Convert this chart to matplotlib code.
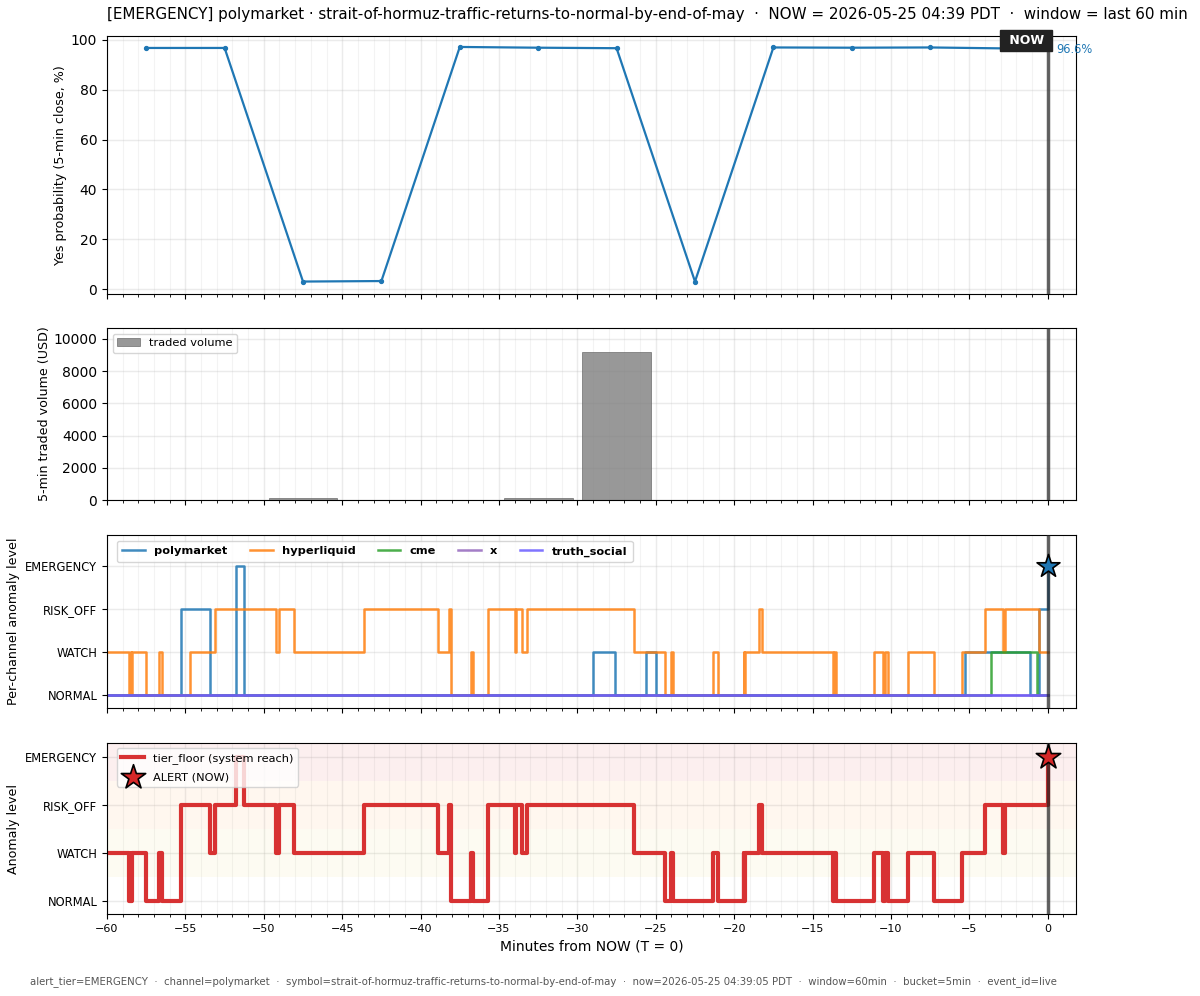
import matplotlib
matplotlib.use("Agg")
import matplotlib.pyplot as plt
from matplotlib.ticker import MultipleLocator

levels = ["NORMAL", "WATCH", "RISK_OFF", "EMERGENCY"]

# 5-min close
prob_t = [-57.5, -52.5, -47.5, -42.5, -37.5, -32.5, -27.5, -22.5, -17.5, -12.5, -7.5, -2.5, 0]
prob_v = [96.8, 96.8, 3.0, 3.2, 97.2, 96.9, 96.7, 3.0, 97.0, 96.9, 97.0, 96.6, 96.6]

vol_t = [-57.5, -52.5, -47.5, -42.5, -37.5, -32.5, -27.5, -22.5, -17.5, -12.5, -7.5, -2.5]
vol_v = [15, 15, 150, 30, 10, 110, 9200, 10, 30, 10, 15, 10]

poly_t = [-60, -55.3, -53.4, -51.75, -51.27, -29.0, -27.6, -25.6, -25.0, -5.25, -1.15, -0.55, 0, 0]
poly_v = [0, 2, 0, 3, 0, 1, 0, 1, 0, 1, 0, 2, 3, 3]

hyper_t = [-60, -58.6, -58.5, -58.45, -58.4, -57.5, -56.7, -56.5, -54.7, -53.1, -49.2, -49.0, -48.1,
           -43.6, -38.9, -38.2, -38.07, -36.8, -36.65, -35.7, -34.0, -33.9, -33.55, -33.2, -26.4,
           -24.4, -24.05, -23.9, -21.35, -21.05, -19.4, -19.35, -19.3, -18.4, -18.2, -13.7, -13.62,
           -13.5, -11.07, -10.5, -10.37, -10.16, -8.9, -7.25, -5.5, -4.0, -2.85, -2.7, -0.55, 0]
hyper_v = [1, 0, 1, 0, 1, 0, 1, 0, 1, 2, 1, 2, 1,
           2, 1, 2, 0, 1, 0, 2, 1, 2, 1, 2, 1,
           0, 1, 0, 1, 0, 1, 0, 1, 2, 1, 0, 1,
           0, 1, 0, 1, 0, 1, 0, 1, 2, 1, 2, 1, 1]

cme_t = [-60, -3.65, -0.7, 0]
cme_v = [0, 1, 0, 0]
x_t = [-60, 0]
x_v = [0, 0]
truth_t = [-60, 0]
truth_v = [0, 0]

tier_t = [-60, -58.6, -58.5, -58.45, -58.4, -57.5, -56.7, -56.5, -55.3, -53.4,
          -53.1, -51.75, -51.27, -49.2, -49.0, -48.1, -43.6, -38.9, -38.2, -38.07,
          -36.8, -36.65, -35.7, -34.0, -33.9, -33.55, -33.2, -26.4, -24.4, -24.05,
          -23.9, -21.35, -21.05, -19.4, -19.35, -19.3, -18.4, -18.2, -13.7, -13.62,
          -13.5, -11.07, -10.5, -10.37, -10.16, -8.9, -7.25, -5.5, -4.0, -2.85,
          -2.7, 0, 0]
tier_v = [1, 0, 1, 0, 1, 0, 1, 0, 2, 1,
          2, 3, 2, 1, 2, 1, 2, 1, 2, 0,
          1, 0, 2, 1, 2, 1, 2, 1, 0, 1,
          0, 1, 0, 1, 0, 1, 2, 1, 0, 1,
          0, 1, 0, 1, 0, 1, 0, 1, 2, 1,
          2, 3, 3]

title = ("[EMERGENCY] polymarket · strait-of-hormuz-traffic-returns-to-normal-by-end-of-may  ·  "
         "NOW = 2026-05-25 04:39 PDT  ·  window = last 60 min")
footer = ("alert_tier=EMERGENCY  ·  channel=polymarket  ·  symbol=strait-of-hormuz-traffic-returns-to-normal-by-end-of-may"
          "  ·  now=2026-05-25 04:39:05 PDT  ·  window=60min  ·  bucket=5min  ·  event_id=live")

W, H = 1200, 996
fig = plt.figure(figsize=(W / 100, H / 100), dpi=100)


def make_ax(top, bottom):
    return fig.add_axes([107 / W, 1 - bottom / H, (1076 - 107) / W, (bottom - top) / H])


ax1 = make_ax(36, 294)
ax2 = make_ax(328, 500)
ax3 = make_ax(535, 708)
ax4 = make_ax(743, 914)

for ax in (ax1, ax2, ax3, ax4):
    ax.set_xlim(-60, 1.8)
    ax.xaxis.set_major_locator(MultipleLocator(5))
    ax.xaxis.set_minor_locator(MultipleLocator(1))
    ax.grid(True, which="major", color="#b0b0b0", alpha=0.25, lw=1.0)
    ax.grid(True, which="minor", axis="x", color="#b0b0b0", alpha=0.15, lw=0.8)
    ax.axvline(0, color="#222222", alpha=0.7, lw=2.5, zorder=6)
    ax.set_axisbelow(True)
    if ax is not ax4:
        ax.tick_params(axis="x", which="both", labelbottom=False)

# probability
ax1.plot(prob_t, prob_v, color="tab:blue", lw=1.6, marker="o", ms=2.8)
ax1.set_ylim(-2, 101.6)
ax1.set_ylabel("Yes probability (5-min close, %)", fontsize=9.1)
ax1.tick_params(axis="y", labelsize=10)
ax1.set_title(title, loc="left", fontsize=10.9, pad=12)
ax1.annotate("96.6%", (0, 96.6), xytext=(6, -1), textcoords="offset points", color="tab:blue",
             fontsize=8.3, va="center", annotation_clip=False)
ax1.text(-1.37, 101.6 - 1.9, " NOW ", color="white", fontweight="bold", fontsize=9, ha="center", va="center",
         bbox=dict(facecolor="#222222", edgecolor="#222222", pad=3), zorder=10, clip_on=False)

# volume
ax2.bar(vol_t, vol_v, width=4.4, color="#7f7f7f", alpha=0.8, edgecolor="#555555", lw=0.5, label="traded volume")
ax2.set_ylim(0, 10680)
ax2.yaxis.set_major_locator(MultipleLocator(2000))
ax2.set_ylabel("5-min traded volume (USD)", fontsize=9.1)
ax2.tick_params(axis="y", labelsize=10)
ax2.legend(loc="upper left", fontsize=8.2)

# channels
series = [("polymarket", poly_t, poly_v, "tab:blue"), ("hyperliquid", hyper_t, hyper_v, "tab:orange"),
          ("cme", cme_t, cme_v, "tab:green"), ("x", x_t, x_v, "tab:purple"),
          ("truth_social", truth_t, truth_v, "#6a5cff")]
for name, t, v, c in series:
    ax3.step(t, v, where="post", color=c, lw=1.8, alpha=0.85, label=name)
ax3.scatter([0], [3], marker="*", s=300, color="tab:blue", edgecolor="black", lw=1.2, zorder=8, clip_on=False)
ax3.set_ylim(-0.3, 3.72)
ax3.set_yticks(range(4), levels, fontsize=8.3)
ax3.set_ylabel("Per-channel anomaly level", fontsize=9.1)
ax3.legend(loc="upper left", ncol=5, prop={"size": 8.2, "weight": "bold"}, borderaxespad=0.85,
           bbox_to_anchor=(0, 1 + 4 / 173), columnspacing=1.95, labelspacing=0.65, borderpad=0.5)

# tier floor
ax4.axhspan(0.5, 1.5, color="#e8d44d", alpha=0.07, lw=0)
ax4.axhspan(1.5, 2.5, color="#ff9a3c", alpha=0.08, lw=0)
ax4.axhspan(2.5, 3.3, color="#d62728", alpha=0.07, lw=0)
ax4.step(tier_t, tier_v, where="post", color="#d62728", lw=3, alpha=0.95, label="tier_floor (system reach)")
ax4.scatter([0], [3], marker="*", s=340, color="#d62728", edgecolor="black", lw=1.2, zorder=8,
            label="ALERT (NOW)", clip_on=False)
ax4.set_ylim(-0.27, 3.3)
ax4.set_yticks(range(4), levels, fontsize=8.3)
ax4.set_ylabel("Anomaly level", fontsize=9.1)
ax4.set_xlabel("Minutes from NOW (T = 0)", fontsize=10)
ax4.tick_params(axis="x", labelsize=8)
ax4.legend(loc="upper left", fontsize=8.2, borderaxespad=0.85, bbox_to_anchor=(0, 1 + 4.5 / 171), labelspacing=0.75)

# label x offsets differ per panel, they follow the tick label width
ax1.yaxis.set_label_coords((67 - 107) / 969, 0.5)
ax2.yaxis.set_label_coords((51 - 107) / 969, 0.5)
ax3.yaxis.set_label_coords((20 - 107) / 969, 0.5)
ax4.yaxis.set_label_coords((20 - 107) / 969, 0.5)

fig.text(30 / W, 1 - 982 / H, footer, fontsize=7.32, color="#555555", va="center")

fig.savefig("out.png", dpi=100)
